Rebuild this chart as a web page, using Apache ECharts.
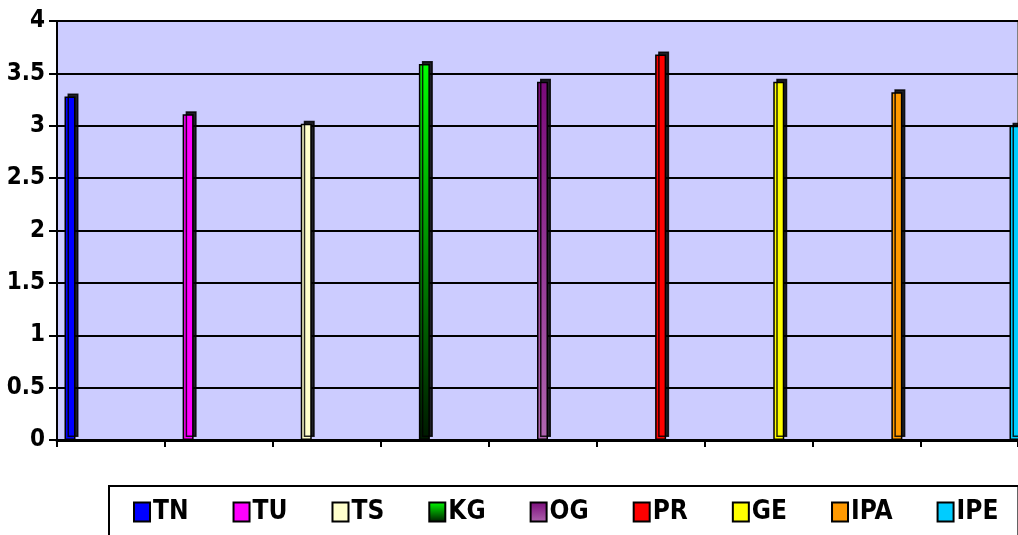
<!DOCTYPE html>
<html>
<head>
<meta charset="utf-8">
<script src="https://cdn.jsdelivr.net/npm/echarts@6/dist/echarts.min.js"></script>
<style>
  html, body { margin: 0; padding: 0; background: #fff; }
  #chart { width: 1018px; height: 535px; }
</style>
</head>
<body>
<div id="chart"></div>
<script>
const categories = ["TN", "TU", "TS", "KG", "OG", "PR", "GE", "IPA", "IPE"];
const values = [3.28, 3.11, 3.02, 3.59, 3.42, 3.68, 3.42, 3.32, 3.0];
const yTicks = [0, 0.5, 1, 1.5, 2, 2.5, 3, 3.5, 4];

const FONT = "'DejaVu Sans Condensed', 'Liberation Sans Narrow', sans-serif";

const grad = (top, bottom) =>
  new echarts.graphic.LinearGradient(0, 0, 0, 1, [
    { offset: 0, color: top },
    { offset: 1, color: bottom },
  ]);

const barColors = [
  "#0000FF",
  "#FF00FF",
  "#FFFFCC",
  grad("#00FF00", "#001800"),
  grad("#7A0A7A", "#B066B0"),
  "#FF0000",
  "#FFFF00",
  "#FF9900",
  "#00CCFF",
];

const chart = echarts.init(document.getElementById("chart"));

const series = categories.map((name, i) => ({
  name,
  type: "bar",
  xAxisIndex: 1,
  yAxisIndex: 1,
  stack: "all",
  barWidth: 11,
  data: categories.map((_, j) => (j === i ? values[i] : "-")),
  itemStyle: {
    color: barColors[i],
    borderColor: "#000",
    borderWidth: 1.5,
    shadowColor: "rgba(0,0,0,0.85)",
    shadowBlur: 0,
    shadowOffsetX: 3,
    shadowOffsetY: -3,
  },
  emphasis: { disabled: true },
}));

chart.setOption({
  animation: false,
  grid: [
    {
      left: 57,
      right: 0,
      top: 21,
      bottom: 95,
      show: true,
      backgroundColor: "#CCCCFF",
      borderColor: "#808080",
      borderWidth: 2,
    },
    { left: 70, right: 3, top: 21, bottom: 95 },
  ],
  xAxis: [
    {
      type: "value",
      gridIndex: 0,
      min: 0,
      max: 8.9,
      interval: 1,
      axisLine: { show: true, lineStyle: { color: "#000", width: 3 } },
      axisTick: { show: true, length: 7, lineStyle: { color: "#000", width: 2 } },
      axisLabel: { show: false },
      splitLine: { show: false },
    },
    {
      type: "category",
      gridIndex: 1,
      data: categories,
      boundaryGap: false,
      axisLine: { show: false },
      axisTick: { show: false },
      axisLabel: { show: false },
    },
  ],
  yAxis: [
    {
      type: "value",
      gridIndex: 0,
      min: yTicks[0],
      max: yTicks[yTicks.length - 1],
      interval: 0.5,
      axisLine: { show: true, lineStyle: { color: "#000", width: 2 } },
      axisTick: { show: true, length: 8, lineStyle: { color: "#000", width: 2 } },
      axisLabel: {
        margin: 12,
        color: "#000",
        fontSize: 24,
        fontWeight: "bold",
        fontFamily: FONT,
      },
      splitLine: { lineStyle: { color: "#000", width: 2 } },
    },
    {
      type: "value",
      gridIndex: 1,
      min: yTicks[0],
      max: yTicks[yTicks.length - 1],
      show: false,
    },
  ],
  legend: {
    left: 109,
    top: 486,
    width: 960,
    orient: "horizontal",
    icon: "rect",
    itemWidth: 16,
    itemHeight: 19,
    itemGap: 44,
    padding: [13, 20, 30, 24],
    backgroundColor: "#fff",
    borderColor: "#000",
    borderWidth: 2,
    borderRadius: 0,
    selectedMode: false,
    textStyle: {
      color: "#000",
      fontSize: 26,
      fontWeight: "bold",
      fontFamily: FONT,
      padding: [0, 0, 0, -2],
    },
    itemStyle: { borderColor: "#000", borderWidth: 2 },
    data: categories,
  },
  series,
});
</script>
</body>
</html>
